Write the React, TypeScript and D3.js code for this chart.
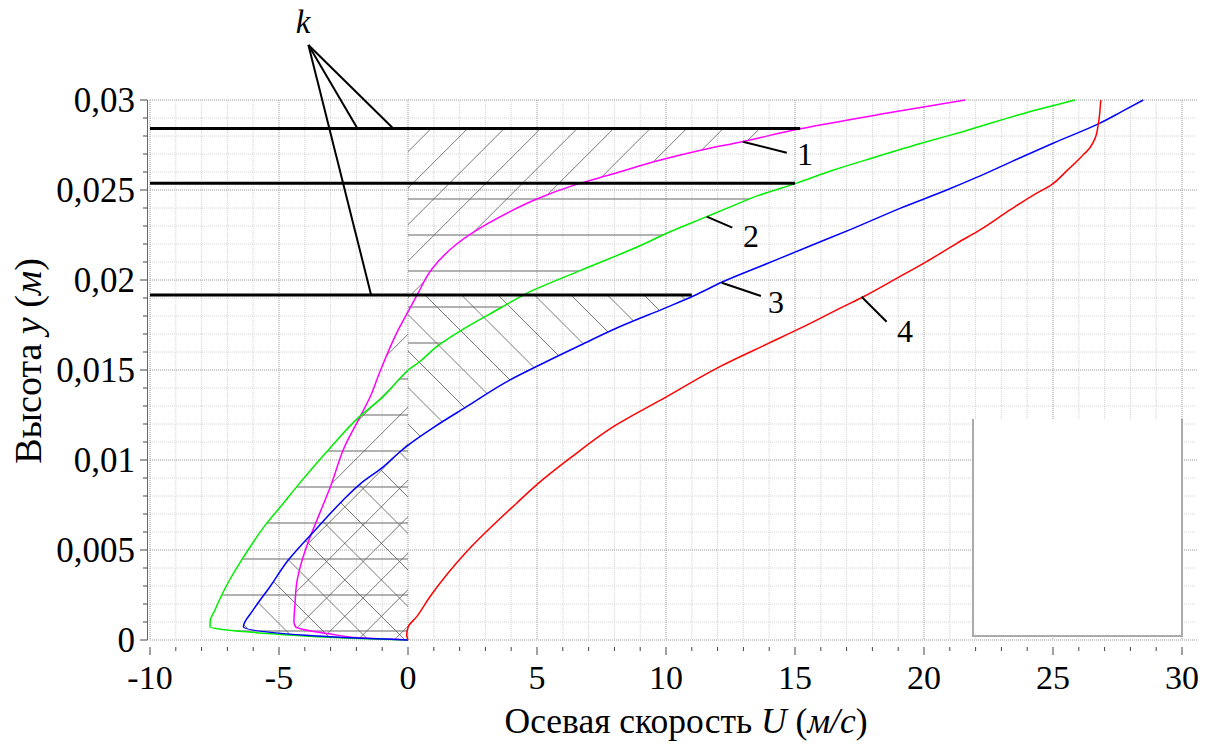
import React from 'react';
import * as d3 from 'd3';

// ---- Data (U in m/s, y in m) ----
const curve1: [number, number][] = [
  [0, 0], [-1.86, 0.00012], [-3.0, 0.00033], [-4.35, 0.00072], [-4.42, 0.001], [-4.38, 0.002],
  [-4.31, 0.0032], [-4.15, 0.0042], [-3.93, 0.0052], [-3.49, 0.0068], [-2.96, 0.0087],
  [-2.5, 0.0106], [-1.86, 0.0124], [-1.47, 0.0135], [-1.09, 0.0149], [-0.39, 0.0172],
  [0.14, 0.0186], [0.4, 0.0193], [0.92, 0.0206], [1.89, 0.022], [3.05, 0.0231], [3.95, 0.0238],
  [4.99, 0.0245], [6.5, 0.0253], [7.96, 0.0259], [9.6, 0.0266], [11.3, 0.0272], [13.0, 0.0277],
  [15.2, 0.0284], [18.7, 0.0293], [21.6, 0.03],
];
const curve2: [number, number][] = [
  [0, 0], [-1.9, 0.00008], [-3.54, 0.00018], [-5.6, 0.00038], [-7.67, 0.00074], [-7.67, 0.00102],
  [-7.48, 0.00167], [-7.22, 0.0025], [-6.85, 0.0035], [-6.45, 0.00444], [-5.48, 0.00648],
  [-4.83, 0.0076], [-4.31, 0.00852], [-3.15, 0.01046], [-1.86, 0.01244], [-0.96, 0.01352],
  [-0.31, 0.01454], [0.01, 0.015], [0.45, 0.01546], [1.11, 0.0163], [2.08, 0.01722], [3.57, 0.01843],
  [4.6, 0.01926], [6.67, 0.02052], [8.99, 0.0219], [10.03, 0.0226], [11.58, 0.02352], [12.3, 0.02395],
  [13.6, 0.0247], [15.06, 0.02538], [16.5, 0.02611], [18.0, 0.02678], [20.1, 0.02768],
  [21.5, 0.02824], [24.0, 0.02931], [25.85, 0.03],
];
const curve3: [number, number][] = [
  [0, 0], [-3.54, 0.00022], [-6.38, 0.00074], [-6.0, 0.00167], [-5.35, 0.00296], [-4.64, 0.00444],
  [-3.54, 0.0062], [-2.51, 0.00778], [-1.86, 0.00866], [-0.96, 0.00962], [-0.31, 0.01046],
  [0.01, 0.01083], [0.98, 0.0118], [2.27, 0.01296], [3.94, 0.01444], [5.1, 0.01528], [6.7, 0.01639],
  [8.2, 0.0174], [10.03, 0.01848], [11.06, 0.01911], [12.2, 0.0199], [13.9, 0.0209], [15.84, 0.02204],
  [17.26, 0.02287], [19.07, 0.02398], [20.88, 0.025], [22.04, 0.0257], [23.46, 0.02662],
  [25.0, 0.0276], [26.8, 0.0287], [27.66, 0.02935], [28.5, 0.03],
];
const curve4: [number, number][] = [
  [0, 0], [-0.05, 0.00028], [0.01, 0.00074], [0.34, 0.0013], [0.85, 0.0024],
  [2.27, 0.0049], [4.21, 0.0076], [5.05, 0.0087], [6.28, 0.0101], [7.96, 0.01185],
  [10.03, 0.01352], [12.09, 0.01519], [13.97, 0.01648], [15.19, 0.01731], [16.87, 0.01852],
  [17.65, 0.01907], [18.94, 0.02009], [20.1, 0.02102], [21.27, 0.02204], [22.17, 0.02278],
  [23.33, 0.02389], [24.24, 0.02472], [24.95, 0.0253], [25.5, 0.02602], [26.1, 0.02685],
  [26.43, 0.02735], [26.63, 0.02787], [26.76, 0.0287], [26.85, 0.03],
];
const curveColors = ['#ff00ff', '#00ee00', '#0000ff', '#ff0000'];

// k-levels: height and the velocity where each thick line ends
const kLevels = [0.02842, 0.02538, 0.01917];
const kEnds = [15.2, 15.0, 11.0];
// hatch limits (height) for curves 1,3 (diagonals) and 2 (horizontal)
const hatchTop1 = 0.02842;
const hatchTop2 = 0.02538;
const hatchTop3 = 0.01917;
const horizHatchLevels = [0.0005, 0.0025, 0.0045, 0.0065, 0.0085, 0.0105, 0.0125, 0.0145, 0.0165, 0.0185, 0.0205, 0.0225, 0.0245];

const xTicks = [-10, -5, 0, 5, 10, 15, 20, 25, 30];
const yTicks = [0, 0.005, 0.01, 0.015, 0.02, 0.025, 0.03];
const yTickLabels = ['0', '0,005', '0,01', '0,015', '0,02', '0,025', '0,03'];

// annotations in data units
const curveLabels = [
  { t: '1', from: [12.98, 0.02768], to: [14.68, 0.02707], at: [15.08, 0.02639] },
  { t: '2', from: [11.58, 0.02352], to: [12.57, 0.02291], at: [12.98, 0.02185] },
  { t: '3', from: [12.16, 0.01985], to: [13.68, 0.01911], at: [13.95, 0.01817] },
  { t: '4', from: [17.58, 0.01907], to: [18.55, 0.01768], at: [18.95, 0.01657] },
];
const kApex = [-3.86, 0.03306];
const kTargets = [[-1.97, 0.02844], [-0.59, 0.02844], [-1.43, 0.01917]];
const kText = [-4.07, 0.03372];
const blankBox = { u0: 21.9, u1: 30, y0: 0.00022, y1: 0.01228 };

const FONT = "'Liberation Serif', 'Times New Roman', serif";

function clipTo(data: [number, number][], top: number): [number, number][] {
  const out: [number, number][] = [];
  for (let i = 0; i < data.length; i++) {
    const p = data[i];
    if (p[1] <= top) out.push(p);
    else {
      const q = data[i - 1];
      const f = (top - q[1]) / (p[1] - q[1]);
      out.push([q[0] + f * (p[0] - q[0]), top]);
      break;
    }
  }
  return out;
}

export default function App() {
  const W = 1218, H = 749;
  const x = d3.scaleLinear().domain([-10, 30]).range([150, 1182]);
  const y = d3.scaleLinear().domain([0, 0.03]).range([640, 100]);
  const line = d3.line<number[]>().x(d => x(d[0])).y(d => y(d[1])).curve(d3.curveMonotoneY);

  const minorX = d3.range(-10, 31, 1).filter(v => v % 5 !== 0);
  const majorX = d3.range(-10, 31, 5);
  const minorY = d3.range(0, 31).filter(v => v % 5 !== 0).map(v => v * 0.001);
  const majorY = d3.range(0, 31, 5).map(v => v * 0.001);

  const clipPath = (c: [number, number][], top: number) => {
    const pts = clipTo(c, top);
    return (line(pts) || '') + `L${x(0)},${y(top)}L${x(0)},${y(0)}Z`;
  };
  const clip1 = clipPath(curve1, hatchTop1);
  const clip2 = clipPath(curve2, hatchTop2);
  const clip3 = clipPath(curve3, hatchTop3);

  // diagonal hatch lines: "/" : yPix = c - xPix ; "\" : yPix = xPix + c
  const step = 36.5;
  const slashC = d3.range(-30, 40).map(k => 559.7 + step * k);
  const backC = d3.range(-40, 30).map(k => -130 + step * k);
  const xa = 150, xb = 1182;

  return (
    <svg width={W} height={H} style={{ position: 'absolute', left: 0, top: 0, background: '#fff' }}
      fontFamily={FONT}>
      <defs>
        <clipPath id="c1"><path d={clip1} /></clipPath>
        <clipPath id="c2"><path d={clip2} /></clipPath>
        <clipPath id="c3"><path d={clip3} /></clipPath>
      </defs>
      <rect width={W} height={H} fill="#fff" />
      {/* grid */}
      <g>
        {minorX.map(v => (
          <line key={'mx' + v} x1={x(v)} x2={x(v)} y1={y(0.03)} y2={y(0)} stroke="#d4d4d4" strokeWidth={1} strokeDasharray="1,1" />
        ))}
        {minorY.map(v => (
          <line key={'my' + v} x1={x(-10)} x2={1195} y1={y(v)} y2={y(v)} stroke="#d4d4d4" strokeWidth={1} strokeDasharray="1,1" />
        ))}
        {majorX.map(v => (
          <line key={'Mx' + v} x1={x(v)} x2={x(v)} y1={y(0.03)} y2={y(0)} stroke="#9a9a9a" strokeWidth={1} strokeDasharray="1,1" />
        ))}
        {majorY.map(v => (
          <line key={'My' + v} x1={x(-10)} x2={1198} y1={y(v)} y2={y(v)} stroke="#9a9a9a" strokeWidth={1} strokeDasharray="1,1" />
        ))}
      </g>
      {/* blank box */}
      <rect x={x(blankBox.u0)} y={y(blankBox.y1)} width={x(blankBox.u1) - x(blankBox.u0)} height={y(blankBox.y0) - y(blankBox.y1)} fill="#fff" />
      <path d={`M${x(blankBox.u0)},${y(blankBox.y1)}V${y(blankBox.y0)}H${x(blankBox.u1)}V${y(blankBox.y1)}`} fill="none" stroke="#aaa" strokeWidth={2} />

      {/* hatching */}
      <g clipPath="url(#c1)">
        {slashC.map((c, i) => (
          <line key={'s' + i} x1={xa} y1={c - xa} x2={xb} y2={c - xb} stroke="#555" strokeWidth={0.8} />
        ))}
      </g>
      <g clipPath="url(#c3)">
        {backC.map((c, i) => (
          <line key={'b' + i} x1={xa} y1={xa + c} x2={xb} y2={xb + c} stroke="#555" strokeWidth={0.8} />
        ))}
      </g>
      <g clipPath="url(#c2)">
        {horizHatchLevels.map((v, i) => (
          <line key={'h' + i} x1={xa} x2={xb} y1={y(v)} y2={y(v)} stroke="#666" strokeWidth={1.1} />
        ))}
      </g>

      {/* curves */}
      {[curve1, curve2, curve3, curve4].map((c, i) => (
        <path key={'c' + i} d={line(c) || ''} fill="none" stroke={curveColors[i]} strokeWidth={1.5} />
      ))}

      {/* k lines */}
      {kLevels.map((v, i) => (
        <line key={'k' + i} x1={x(-10)} x2={x(kEnds[i])} y1={y(v)} y2={y(v)} stroke="#000" strokeWidth={3} />
      ))}
      {kTargets.map((t, i) => (
        <line key={'kt' + i} x1={x(kApex[0])} y1={y(kApex[1])} x2={x(t[0])} y2={y(t[1])} stroke="#000" strokeWidth={2} />
      ))}
      <text x={x(kText[0])} y={y(kText[1])} fontSize={33} fontStyle="italic" textAnchor="middle">k</text>

      {/* curve labels */}
      {curveLabels.map(l => (
        <g key={'l' + l.t}>
          <line x1={x(l.from[0])} y1={y(l.from[1])} x2={x(l.to[0])} y2={y(l.to[1])} stroke="#000" strokeWidth={2} />
          <text x={x(l.at[0])} y={y(l.at[1])} fontSize={32}>{l.t}</text>
        </g>
      ))}

      {/* y axis */}
      <line x1={147.5} x2={147.5} y1={y(0.03)} y2={y(0)} stroke="#666" strokeWidth={1} />
      {minorY.map(v => (
        <line key={'yt' + v} x1={143} x2={147.5} y1={y(v)} y2={y(v)} stroke="#444" strokeWidth={1} />
      ))}
      {yTicks.map((v, i) => (
        <g key={'yl' + i}>
          <line x1={140} x2={147.5} y1={y(v)} y2={y(v)} stroke="#444" strokeWidth={1} />
          <text x={135} y={y(v)} dy="0.35em" fontSize={35} textAnchor="end">{yTickLabels[i]}</text>
        </g>
      ))}
      {/* x axis ticks */}
      {minorX.map(v => (
        <line key={'xt' + v} x1={x(v)} x2={x(v)} y1={647} y2={651} stroke="#444" strokeWidth={1} />
      ))}
      {xTicks.map(v => (
        <g key={'xl' + v}>
          <line x1={x(v)} x2={x(v)} y1={647} y2={655} stroke="#444" strokeWidth={1} />
          <text x={x(v)} y={689} fontSize={34} textAnchor="middle">{v}</text>
        </g>
      ))}

      {/* axis titles */}
      <text x={686} y={733} fontSize={35.5} textAnchor="middle">
        Осевая скорость <tspan fontStyle="italic">U</tspan> (<tspan fontStyle="italic">м/с</tspan>)
      </text>
      <text transform="translate(41,361) rotate(-90)" fontSize={38} textAnchor="middle">
        Высота <tspan fontStyle="italic">y</tspan> (<tspan fontStyle="italic">м</tspan>)
      </text>
    </svg>
  );
}
